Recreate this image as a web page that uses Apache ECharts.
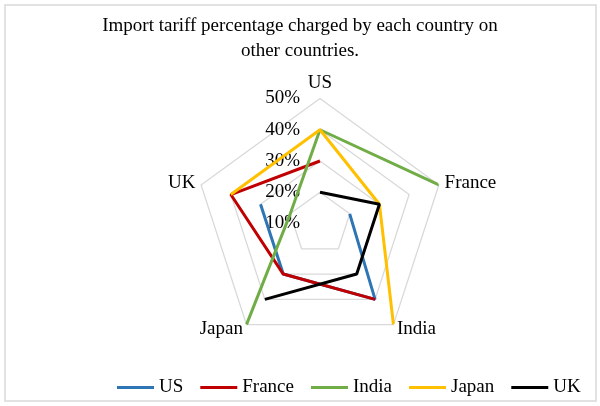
<!DOCTYPE html>
<html>
<head>
<meta charset="utf-8">
<script src="https://cdn.jsdelivr.net/npm/echarts@6/dist/echarts.min.js"></script>
<style>
  html, body { margin: 0; padding: 0; background: #fff; }
  #chart { width: 600px; height: 406px; }
</style>
</head>
<body>
<div id="chart"></div>
<script>
// 各国名称（顺时针从上方开始）
const countries = ["US", "France", "India", "Japan", "UK"];
// 刻度标签
const tickLabels = ["10%", "20%", "30%", "40%", "50%"];
// 每个国家对其他国家收取的关税（%），对自己为空
const usData = [null, 20, 40, 30, 30];
const franceData = [30, null, 40, 30, 40];
const indiaData = [40, 50, null, 50, 20];
const japanData = [40, 30, 50, null, 40];
const ukData = [20, 30, 30, 40, null];

const seriesList = [
	{ name: "US", color: "#2e75b6", values: usData },
	{ name: "France", color: "#c00000", values: franceData },
	{ name: "India", color: "#70ad47", values: indiaData },
	{ name: "Japan", color: "#ffc000", values: japanData },
	{ name: "UK", color: "#000000", values: ukData },
];

const font = "'Liberation Serif', 'Times New Roman', serif";
const center = ["53.33%", "55.05%"];
const radius = 125;

// 从空值后面开始排列，折线不闭合（Excel 里空值显示为间隙）
// 角度用国家序号，最后一个国家之后回到 US 时用 序号+5，保证折线走最短的一段
function toPolarPoints(values) {
	const n = values.length;
	const start = values.indexOf(null);
	const points = [];
	for (let k = 1; k <= n; k++) {
		const i = (start + k) % n;
		if (values[i] !== null) points.push([values[i], start + k]);
	}
	return points;
}

// 雷达坐标是逆时针排列的，所以反过来给它（第一个仍在上方）
const radarOrder = [countries[0]].concat(countries.slice(1).reverse());

let chart = echarts.init(document.getElementById("chart"));

const option = {
	animation: false,
	title: {
		text: "Import tariff percentage charged by each country on\nother countries.",
		left: "center",
		top: 9,
		textStyle: {
			fontFamily: font,
			fontSize: 19,
			fontWeight: "normal",
			color: "#000",
			lineHeight: 25,
		},
	},
	legend: {
		left: 117,
		top: 378,
		padding: 0,
		icon: "rect",
		itemWidth: 37,
		itemHeight: 3,
		itemGap: 17,
		textStyle: {
			fontFamily: font,
			fontSize: 19,
			color: "#000",
		},
		data: countries,
	},
	radar: {
		center: center,
		radius: radius,
		startAngle: 90,
		shape: "polygon",
		splitNumber: 4,
		nameGap: 6,
		axisName: {
			color: "#000",
			fontFamily: font,
			fontSize: 19,
		},
		axisLine: { show: false },
		axisTick: { show: false },
		axisLabel: { show: false },
		splitArea: { show: false },
		splitLine: {
			lineStyle: { color: "#d9d9d9", width: 1.3 },
		},
		indicator: radarOrder.map((c, i) => ({
			name: c,
			min: 10,
			max: 50,
			axisLabel:
				i === 0
					? {
							show: true,
							margin: 20,
							color: "#000",
							fontFamily: font,
							fontSize: 19,
							formatter: (v) => tickLabels[Math.round(v / 10) - 1],
					  }
					: { show: false },
		})),
	},
	polar: {
		center: center,
		radius: radius,
	},
	// 数值型角度轴：0..5 对应一整圈，每个国家 72°
	angleAxis: {
		type: "value",
		min: 0,
		max: countries.length,
		startAngle: 90,
		clockwise: true,
		show: false,
	},
	radiusAxis: {
		type: "value",
		min: 10,
		max: 50,
		show: false,
	},
	series: seriesList.map((s) => ({
		name: s.name,
		type: "line",
		coordinateSystem: "polar",
		symbol: "none",
		clip: false,
		color: s.color,
		lineStyle: { width: 3, color: s.color },
		data: toPolarPoints(s.values),
		z: 3,
	})),
	graphic: [
		{
			type: "rect",
			shape: { x: 5, y: 5, width: 591, height: 396 },
			style: { fill: null, stroke: "#d9d9d9", lineWidth: 1.5 },
			silent: true,
			z: -1,
		},
	],
};

chart.setOption(option);
</script>
</body>
</html>
